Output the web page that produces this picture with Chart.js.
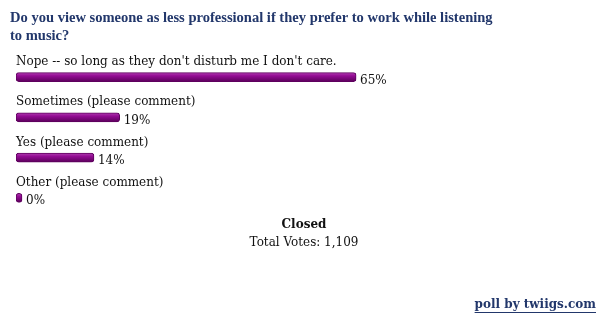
<!DOCTYPE html>
<html><head><meta charset="utf-8">
<script src="https://cdn.jsdelivr.net/npm/chart.js@4"></script>
<style>html,body{margin:0;padding:0;background:#fff;}#wrap{width:609px;height:328px;position:relative;}</style>
</head><body><div id="wrap"><canvas id="c" width="609" height="328"></canvas></div>
<script>
const titleLines = ["Do you view someone as less professional if they prefer to work while listening", "to music?"];
const categories = ["Nope -- so long as they don't disturb me I don't care.", "Sometimes (please comment)", "Yes (please comment)", "Other (please comment)"];
const percents = [65, 19, 14, 0];
const statusText = "Closed";
const totalText = "Total Votes: 1,109";
const creditText = "poll by twiigs.com";

const SERIF = "'DejaVu Serif', 'Liberation Serif', serif";
const TSERIF = "'Liberation Serif', 'DejaVu Serif', serif";
const NAVY = "#22376b";

function fitSize(ctx, text, weight, family, target, base) {
  ctx.font = weight + " " + base + "px " + family;
  const w = ctx.measureText(text).width;
  return base * target / w;
}

const textPlugin = {
  id: 'pollText',
  afterDatasetsDraw(chart) {
    const ctx = chart.ctx;
    ctx.save();
    const tSize = fitSize(ctx, titleLines[0], "bold", TSERIF, 483, 13);
    ctx.font = "bold " + tSize + "px " + TSERIF;
    ctx.fillStyle = NAVY;
    ctx.textAlign = "left";
    ctx.textBaseline = "middle";
    ctx.fillText(titleLines[0], 10, 18);
    ctx.fillText(titleLines[1], 10, 36);
    const lSize = fitSize(ctx, categories[0], "normal", SERIF, 321, 13);
    const meta = chart.getDatasetMeta(0);
    ctx.fillStyle = "#111";
    meta.data.forEach((bar, i) => {
      ctx.font = "normal " + lSize + "px " + SERIF;
      ctx.textAlign = "left";
      ctx.fillText(categories[i], 16, bar.y - 15);
      ctx.fillText(percents[i] + "%", bar.x + 4, bar.y + 3.5);
    });
    ctx.textAlign = "center";
    ctx.font = "bold " + lSize + "px " + SERIF;
    ctx.fillText(statusText, 304, 225);
    ctx.font = "normal " + lSize + "px " + SERIF;
    ctx.fillText(totalText, 304, 243);
    ctx.font = "bold " + lSize + "px " + SERIF;
    ctx.fillStyle = NAVY;
    ctx.textAlign = "right";
    const cw = ctx.measureText(creditText).width;
    ctx.fillText(creditText, 596, 305);
    ctx.fillRect(596 - cw, 312, cw, 1);
    ctx.restore();
  }
};

const BASE = -1.17;
new Chart(document.getElementById('c'), {
  type: 'bar',
  data: {
    labels: categories,
    datasets: [{
      data: percents,
      base: BASE,
      barThickness: 9,
      borderRadius: 3,
      borderSkipped: false,
      borderWidth: 1,
      borderColor: '#5e005e',
      backgroundColor: (ctx) => {
        const ch = ctx.chart;
        const ys = ch.scales && ch.scales.y;
        if (!ch.chartArea || !ys) return '#8a0a8a';
        const y = ys.getPixelForValue(ctx.dataIndex);
        if (!isFinite(y)) return '#8a0a8a';
        const g = ch.ctx.createLinearGradient(0, y - 4.5, 0, y + 4.5);
        g.addColorStop(0, '#b040b0');
        g.addColorStop(0.35, '#940c94');
        g.addColorStop(1, '#5a005a');
        return g;
      }
    }]
  },
  options: {
    indexAxis: 'y',
    responsive: false,
    animation: false,
    layout: { padding: { left: 16, right: 73, top: 57, bottom: 110 } },
    scales: {
      x: { display: false, min: BASE, max: 100 },
      y: { display: false }
    },
    plugins: { legend: { display: false }, tooltip: { enabled: false }, title: { display: false } }
  },
  plugins: [textPlugin]
});
</script></body></html>
